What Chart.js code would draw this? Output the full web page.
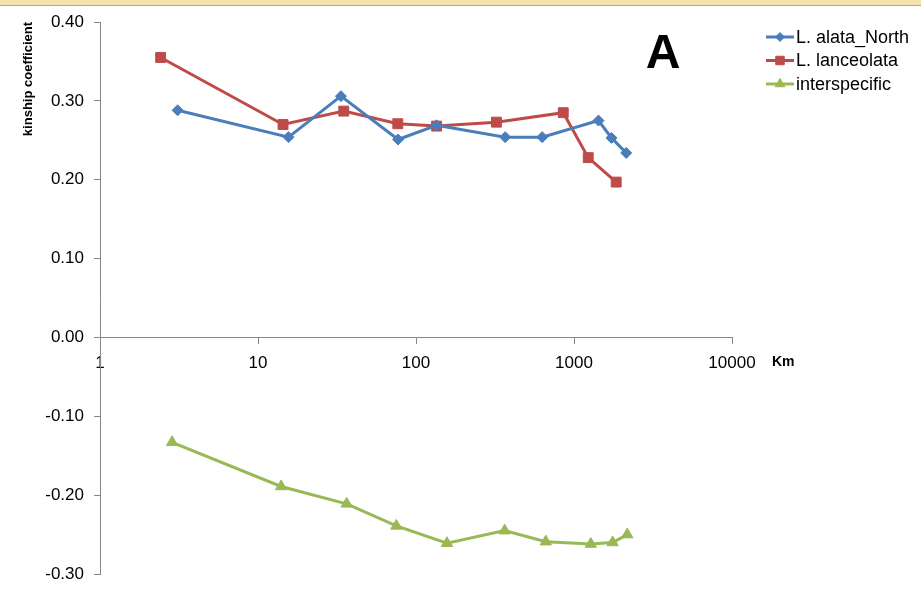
<!DOCTYPE html>
<html>
<head>
<meta charset="utf-8">
<script src="https://cdn.jsdelivr.net/npm/chart.js@4.4.1/dist/chart.umd.min.js"></script>
<style>
  html, body { margin: 0; padding: 0; background: #fff; }
  #wrap { width: 921px; height: 607px; }
</style>
</head>
<body>
<div id="wrap"><canvas id="kinChart" width="921" height="607"></canvas></div>
<script>
// distances (km) and kinship values
const alataKm = [3.1, 15.6, 33.5, 77, 135, 367, 629, 1429, 1727, 2140];
const alataKin = [0.288, 0.254, 0.306, 0.251, 0.269, 0.254, 0.254, 0.275, 0.253, 0.234];

const lanceKm = [2.42, 14.4, 34.9, 76.7, 135, 323, 855, 1230, 1849];
const lanceKin = [0.355, 0.270, 0.287, 0.271, 0.268, 0.273, 0.285, 0.228, 0.197];

const interKm = [2.86, 14.0, 36.4, 75.1, 157, 364, 663, 1277, 1755, 2173];
const interKin = [-0.133, -0.189, -0.211, -0.239, -0.261, -0.245, -0.259, -0.262, -0.260, -0.250];

const xTicks = [1, 10, 100, 1000, 10000];
const yTicks = [-0.3, -0.2, -0.1, 0, 0.1, 0.2, 0.3, 0.4];

const FONT = '"Liberation Sans", Arial, sans-serif';
const AXIS_GREY = '#868686';

function pts(xs, ys) {
    return xs.map((x, i) => ({ x: x, y: ys[i] }));
}

const seriesStyle = [
    { label: 'L. alata_North', color: '#4A7EBB', style: 'rectRot', radius: 5.5 },
    { label: 'L. lanceolata', color: '#BE4B48', style: 'rect', radius: 7 },
    { label: 'interspecific', color: '#98B954', style: 'triangle', radius: 6.5 }
];

// slide strip on top, panel letter, axis unit and legend
const decorations = {
    id: 'decorations',
    beforeDraw(chart) {
        const ctx = chart.ctx;
        ctx.save();
        ctx.fillStyle = '#ffffff';
        ctx.fillRect(0, 0, chart.width, chart.height);
        ctx.fillStyle = '#f2e2ab';
        ctx.fillRect(0, 0, chart.width, 5);
        ctx.fillStyle = '#a8a8a8';
        ctx.fillRect(0, 5, chart.width, 1);
        ctx.restore();
    },
    afterDraw(chart) {
        const ctx = chart.ctx;
        ctx.save();
        ctx.fillStyle = '#000';
        ctx.textAlign = 'center';
        ctx.textBaseline = 'alphabetic';
        ctx.font = 'bold 48px ' + FONT;
        ctx.fillText('A', 663, 68);

        ctx.textAlign = 'left';
        ctx.textBaseline = 'middle';
        ctx.font = 'bold 14px ' + FONT;
        const y0 = chart.scales.y.getPixelForValue(0);
        ctx.fillText('Km', 772, y0 + 25);

        ctx.font = '18px ' + FONT;
        const rows = [37, 60.5, 84];
        seriesStyle.forEach((s, i) => {
            const y = rows[i];
            ctx.strokeStyle = s.color;
            ctx.lineWidth = 3;
            ctx.beginPath();
            ctx.moveTo(766, y);
            ctx.lineTo(794, y);
            ctx.stroke();
            ctx.fillStyle = s.color;
            ctx.lineWidth = 1;
            Chart.helpers.drawPoint(ctx, { pointStyle: s.style, radius: s.radius - 1, rotation: 0, borderWidth: 1 }, 780, y);
            ctx.fillStyle = '#000';
            ctx.fillText(s.label, 796, y + 1);
        });
        ctx.restore();
    }
};

const allData = [pts(alataKm, alataKin), pts(lanceKm, lanceKin), pts(interKm, interKin)];

const ctx = document.getElementById('kinChart').getContext('2d');
new Chart(ctx, {
    type: 'line',
    data: {
        datasets: seriesStyle.map((s, i) => ({
            label: s.label,
            data: allData[i],
            borderColor: s.color,
            backgroundColor: s.color,
            borderWidth: 3,
            tension: 0,
            pointStyle: s.style,
            pointRadius: s.radius,
            pointBorderWidth: 1,
            pointBorderColor: s.color,
            pointBackgroundColor: s.color
        }))
    },
    options: {
        responsive: false,
        animation: false,
        layout: { padding: { left: 0, top: 22, right: 189, bottom: 33 } },
        plugins: {
            legend: { display: false },
            tooltip: { enabled: false }
        },
        scales: {
            x: {
                type: 'logarithmic',
                position: { y: 0 },
                min: 1,
                max: 10000,
                afterBuildTicks: s => { s.ticks = xTicks.map(v => ({ value: v })); },
                ticks: {
                    color: '#000',
                    font: { family: FONT, size: 17 },
                    padding: 10,
                    maxRotation: 0,
                    autoSkip: false,
                    callback: v => String(v)
                },
                grid: { drawOnChartArea: false, drawTicks: true, tickLength: 6, color: AXIS_GREY },
                border: { color: AXIS_GREY, width: 1 }
            },
            y: {
                min: -0.3,
                max: 0.4,
                afterBuildTicks: s => { s.ticks = yTicks.map(v => ({ value: v })); },
                afterFit: s => { s.width = 100; },
                ticks: {
                    color: '#000',
                    font: { family: FONT, size: 17 },
                    padding: 10,
                    callback: v => Number(v).toFixed(2)
                },
                grid: { drawOnChartArea: false, drawTicks: true, tickLength: 6, color: AXIS_GREY },
                border: { color: AXIS_GREY, width: 1 },
                title: {
                    display: true,
                    text: 'kinship coefficient',
                    align: 'end',
                    color: '#000',
                    font: { family: FONT, size: 13, weight: 'bold' },
                    padding: { top: 21, bottom: 0 }
                }
            }
        }
    },
    plugins: [decorations]
});
</script>
</body>
</html>
